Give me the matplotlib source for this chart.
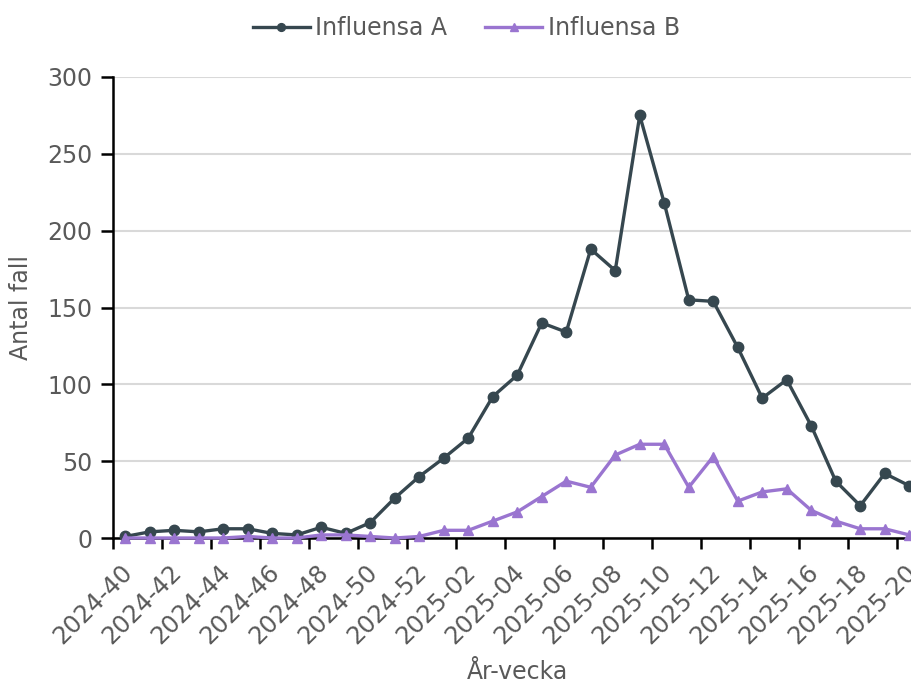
import matplotlib
matplotlib.use("Agg")
import matplotlib.pyplot as plt
import matplotlib.transforms as mtransforms
import numpy as np

weeks = [f"2024-{w}" for w in range(40, 53)] + [f"2025-{w:02d}" for w in range(1, 21)]
influensa_a = [1, 4, 5, 4, 6, 6, 3, 2, 7, 3, 10, 26, 40, 52, 65, 92, 106,
               140, 134, 188, 174, 275, 218, 155, 154, 124, 91, 103, 73, 37, 21, 42, 34]
influensa_b = [0, 0, 0, 0, 0, 1, 0, 0, 2, 2, 1, 0, 1, 5, 5, 11, 17,
               27, 37, 33, 54, 61, 61, 33, 53, 24, 30, 32, 18, 11, 6, 6, 2]

col_a = "#36474F"
col_b = "#9A75D0"
txt = "#595959"
fs = 17
label_pad_pts = 16

fig = plt.figure(figsize=(9.11, 6.82), dpi=100)
ax = fig.add_axes([113/911, (682-538)/682, 808.5/911, (538-77)/682])

x = np.arange(len(weeks))
ax.plot(x, influensa_a, color=col_a, lw=2.4, marker="o", ms=7.5, label="Influensa A", zorder=3, clip_on=False)
ax.plot(x, influensa_b, color=col_b, lw=2.4, marker="^", ms=7.5, label="Influensa B", zorder=3, clip_on=False)

ax.set_xlim(-0.5, len(weeks) - 0.5)
ax.set_ylim(0, 300)
ax.set_yticks(range(0, 301, 50))
ax.grid(axis="y", color="#D9D9D9", lw=1.5)
ax.set_axisbelow(True)

ax.set_xticks(np.arange(-0.5, len(weeks), 2))
ax.set_xticklabels([])
ax.set_xticks(x[::2], minor=True)
ax.set_xticklabels(weeks[::2], minor=True, rotation=45, ha="right", va="top", rotation_mode="anchor")
ax.tick_params(axis="x", which="minor", length=0, pad=label_pad_pts, labelsize=17.5, labelcolor=txt)
ax.tick_params(axis="x", which="major", length=8, width=1.8, color="black", direction="out")
ax.tick_params(axis="y", length=9, width=1.8, color="black", labelsize=fs, labelcolor=txt, pad=6)

for s in ["top", "right"]:
    ax.spines[s].set_visible(False)
for s in ["left", "bottom"]:
    ax.spines[s].set_linewidth(1.8)
    ax.spines[s].set_color("black")

ax.set_ylabel("Antal fall", fontsize=fs, color=txt, labelpad=10)
ax.set_xlabel("År-vecka", fontsize=fs, color=txt)
ax.xaxis.set_label_coords(0.5, -0.265)

fig.legend(loc="upper center", bbox_to_anchor=(0.512, 1.008), ncol=2, frameon=False,
           fontsize=fs, labelcolor=txt, handlelength=2.4, columnspacing=1.6,
           handletextpad=0.25, markerscale=0.75)

fig.canvas.draw()
base = ax.get_xaxis_text1_transform(label_pad_pts)[0]
offset = mtransforms.ScaledTranslation(-0.05, 0.0, fig.dpi_scale_trans)
for tick in ax.xaxis.get_minor_ticks():
    tick.label1.set_transform(base + offset)

fig.savefig("out.png", dpi=100)
